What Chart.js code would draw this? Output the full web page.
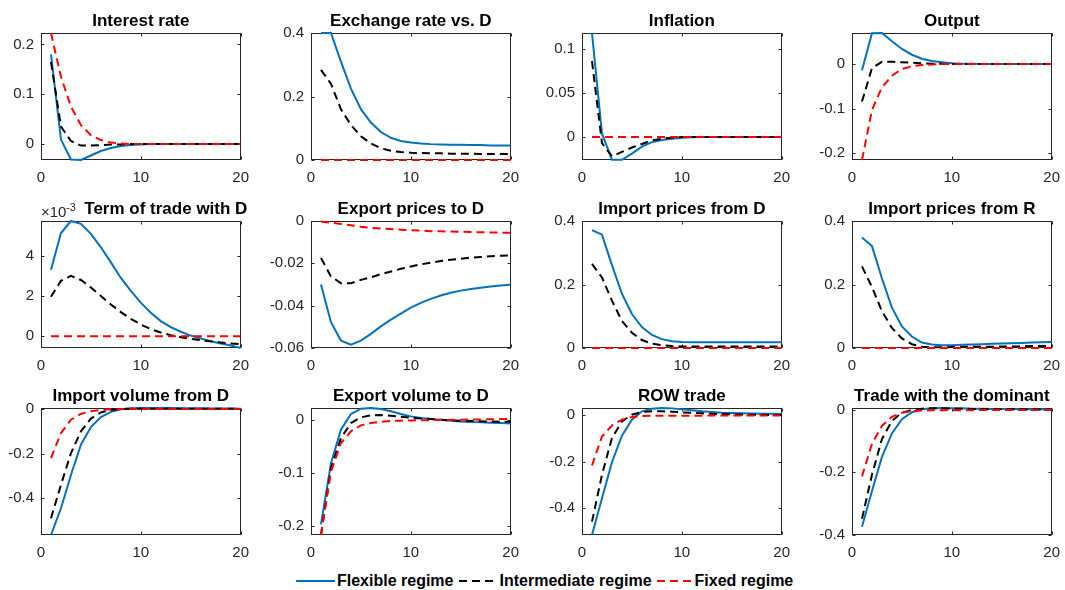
<!DOCTYPE html>
<html>
<head>
<meta charset="utf-8">
<script src="https://cdn.jsdelivr.net/npm/chart.js@4.4.1/dist/chart.umd.min.js"></script>
<style>
  body { margin: 0; background: #fff; width: 1065px; height: 590px; position: relative; overflow: hidden; font-family: "Liberation Sans", Arial, sans-serif; }
  canvas { position: absolute; }
  #legend { position: absolute; left: 296px; top: 571px; display: flex; align-items: center; gap: 5px; font-weight: bold; font-size: 16px; line-height: 20px; color: #000; white-space: nowrap; }
  #legend span { display: flex; align-items: center; gap: 2px; }
</style>
</head>
<body>
<div id="legend">
  <span><svg width="39" height="10"><line x1="0" y1="5" x2="39" y2="5" stroke="#0072BD" stroke-width="2"/></svg>Flexible regime</span>
  <span><svg width="39" height="10"><line x1="0" y1="5" x2="39" y2="5" stroke="#000" stroke-width="2" stroke-dasharray="8 5"/></svg>Intermediate regime</span>
  <span><svg width="36" height="10"><line x1="0" y1="5" x2="36" y2="5" stroke="#f00" stroke-width="2" stroke-dasharray="8 5"/></svg>Fixed regime</span>
</div>
<script>
const periods = [1, 2, 3, 4, 5, 6, 7, 8, 9, 10, 11, 12, 13, 14, 15, 16, 17, 18, 19, 20];
const xTicks = [0, 10, 20];
const zeros = [0, 0, 0, 0, 0, 0, 0, 0, 0, 0, 0, 0, 0, 0, 0, 0, 0, 0, 0, 0];

// Interest rate
const rateFlex = [0.180, 0.009, -0.031, -0.032, -0.023, -0.014, -0.008, -0.004, -0.002, -0.001, 0, 0, 0, 0, 0, 0, 0, 0, 0, 0];
const rateInter = [0.165, 0.035, 0.006, -0.003, -0.003, -0.002, -0.001, -0.001, 0, 0, 0, 0, 0, 0, 0, 0, 0, 0, 0, 0];
const rateFixed = [0.223, 0.135, 0.075, 0.038, 0.018, 0.008, 0.003, 0.001, 0, 0, 0, 0, 0, 0, 0, 0, 0, 0, 0, 0];
const rateTicks = [0, 0.1, 0.2];

// Exchange rate vs. D
const fxFlex = [0.4, 0.4, 0.31, 0.225, 0.16, 0.118, 0.088, 0.07, 0.06, 0.055, 0.052, 0.05, 0.049, 0.048, 0.048, 0.047, 0.047, 0.046, 0.046, 0.046];
const fxInter = [0.284, 0.24, 0.16, 0.11, 0.075, 0.052, 0.037, 0.029, 0.025, 0.023, 0.022, 0.021, 0.021, 0.02, 0.02, 0.02, 0.019, 0.019, 0.019, 0.019];
const fxFixed = zeros;
const fxTicks = [0, 0.2, 0.4];

// Inflation
const inflFlex = [0.118, 0.004, -0.026, -0.026, -0.019, -0.011, -0.006, -0.0035, -0.002, -0.001, -0.0005, 0, 0, 0, 0, 0, 0, 0, 0, 0];
const inflInter = [0.086, -0.007, -0.022, -0.017, -0.012, -0.008, -0.004, -0.002, -0.001, 0, 0, 0, 0, 0, 0, 0, 0, 0, 0, 0];
const inflFixed = zeros;
const inflTicks = [0, 0.05, 0.1];

// Output
const outFlex = [-0.014, 0.069, 0.0697, 0.051, 0.034, 0.021, 0.012, 0.007, 0.004, 0.002, 0.001, 0.001, 0, 0, 0, 0, 0, 0, 0, 0];
const outInter = [-0.084, -0.009, 0.005, 0.005, 0.004, 0.003, 0.002, 0.001, 0.001, 0, 0, 0, 0, 0, 0, 0, 0, 0, 0, 0];
const outFixed = [-0.215, -0.103, -0.052, -0.026, -0.011, -0.005, -0.002, -0.001, 0, 0, 0, 0, 0, 0, 0, 0, 0, 0, 0, 0];
const outTicks = [-0.2, -0.1, 0];

// Term of trade with D (in units of 10^-3)
const totFlex = [3.31, 5.14, 5.74, 5.6, 5.1, 4.43, 3.68, 2.9, 2.26, 1.67, 1.17, 0.75, 0.45, 0.22, 0.03, -0.12, -0.25, -0.37, -0.47, -0.59];
const totInter = [1.96, 2.76, 3.01, 2.8, 2.43, 2.0, 1.58, 1.2, 0.86, 0.58, 0.35, 0.18, 0.05, -0.05, -0.13, -0.2, -0.26, -0.31, -0.36, -0.4];
const totFixed = zeros;
const totTicks = [0, 2, 4];

// Export prices to D
const expFlex = [-0.030, -0.0478, -0.0565, -0.0584, -0.0565, -0.0533, -0.0498, -0.0466, -0.0438, -0.0409, -0.0387, -0.0368, -0.0352, -0.0339, -0.0329, -0.0321, -0.0315, -0.031, -0.0305, -0.0301];
const expInter = [-0.0175, -0.0262, -0.0294, -0.0294, -0.0278, -0.0266, -0.0251, -0.0239, -0.0226, -0.0215, -0.0205, -0.0197, -0.0189, -0.0183, -0.0178, -0.0173, -0.017, -0.0167, -0.0164, -0.0162];
const expFixed = [-0.0002, -0.0008, -0.0014, -0.002, -0.0027, -0.0032, -0.0035, -0.0038, -0.0041, -0.0043, -0.0045, -0.0048, -0.0049, -0.005, -0.0051, -0.0052, -0.0053, -0.0054, -0.0055, -0.0056];
const expTicks = [-0.06, -0.04, -0.02, 0];

// Import prices from D
const impDFlex = [0.371, 0.357, 0.261, 0.171, 0.107, 0.066, 0.041, 0.028, 0.021, 0.019, 0.018, 0.018, 0.018, 0.018, 0.018, 0.018, 0.018, 0.018, 0.018, 0.018];
const impDInter = [0.265, 0.222, 0.149, 0.085, 0.048, 0.025, 0.014, 0.009, 0.006, 0.005, 0.005, 0.005, 0.005, 0.005, 0.005, 0.005, 0.005, 0.005, 0.005, 0.005];
const impDFixed = zeros;
const impDTicks = [0, 0.2, 0.4];

// Import prices from R
const impRFlex = [0.348, 0.321, 0.219, 0.127, 0.068, 0.036, 0.017, 0.011, 0.009, 0.009, 0.01, 0.011, 0.012, 0.013, 0.014, 0.015, 0.016, 0.017, 0.018, 0.019];
const impRInter = [0.257, 0.192, 0.116, 0.063, 0.03, 0.012, 0.004, 0.002, 0.002, 0.003, 0.003, 0.004, 0.004, 0.004, 0.005, 0.005, 0.005, 0.006, 0.006, 0.006];
const impRFixed = zeros;
const impRTicks = [0, 0.2, 0.4];

// Import volume from D
const ivFlex = [-0.565, -0.445, -0.296, -0.16, -0.081, -0.036, -0.013, -0.0015, 0.003, 0.0045, 0.0045, 0.004, 0.004, 0.0035, 0.003, 0.003, 0.0025, 0.002, 0.002, 0.0015];
const ivInter = [-0.49, -0.34, -0.198, -0.1, -0.043, -0.015, -0.0045, 0, 0.001, 0.0015, 0.0015, 0.001, 0.001, 0.001, 0.001, 0.001, 0.001, 0.001, 0.001, 0.001];
const ivFixed = [-0.22, -0.108, -0.048, -0.022, -0.01, -0.0045, -0.0015, 0, 0, 0, 0, 0, 0, 0, 0, 0, 0, 0, 0, 0];
const ivTicks = [-0.4, -0.2, 0];

// Export volume to D
const evFlex = [-0.1975, -0.082, -0.019, 0.0107, 0.0208, 0.0221, 0.0202, 0.0158, 0.0107, 0.0063, 0.0032, 0.0013, 0, -0.002, -0.0032, -0.0044, -0.005, -0.0057, -0.0063, -0.007];
const evInter = [-0.2177, -0.0915, -0.035, -0.0063, 0.0044, 0.0082, 0.0088, 0.0076, 0.0057, 0.0038, 0.0025, 0.0013, 0, -0.0013, -0.002, -0.0025, -0.003, -0.0034, -0.0037, -0.0038];
const evFixed = [-0.2177, -0.098, -0.044, -0.022, -0.0107, -0.0063, -0.0038, -0.0025, -0.0018, -0.0013, -0.001, -0.0008, -0.0006, -0.0003, 0, 0.0003, 0.0006, 0.0009, 0.0011, 0.0013];
const evTicks = [-0.2, -0.1, 0];

// ROW trade
const rowFlex = [-0.514, -0.357, -0.203, -0.09, -0.021, 0.0143, 0.0257, 0.0286, 0.027, 0.023, 0.0186, 0.0143, 0.0114, 0.0086, 0.0071, 0.0057, 0.005, 0.0043, 0.0036, 0.003];
const rowInter = [-0.457, -0.257, -0.1, -0.0286, 0, 0.0114, 0.0143, 0.0143, 0.013, 0.01, 0.008, 0.0057, 0.004, 0.0028, 0.0014, 0.0005, 0, -0.0005, -0.001, -0.0014];
const rowFixed = [-0.217, -0.093, -0.046, -0.021, -0.01, -0.0057, -0.0043, -0.0043, -0.0043, -0.0043, -0.004, -0.004, -0.0035, -0.0035, -0.003, -0.003, -0.003, -0.003, -0.003, -0.003];
const rowTicks = [-0.4, -0.2, 0];

// Trade with the dominant
const domFlex = [-0.374, -0.26, -0.151, -0.076, -0.031, -0.0083, 0.001, 0.004, 0.005, 0.004, 0.004, 0.003, 0.003, 0.002, 0.002, 0.002, 0.001, 0.001, 0.001, 0.001];
const domInter = [-0.348, -0.208, -0.094, -0.036, -0.01, -0.001, 0.003, 0.004, 0.004, 0.003, 0.003, 0.002, 0.002, 0.001, 0.001, 0.001, 0.001, 0, 0, 0];
const domFixed = [-0.213, -0.109, -0.052, -0.023, -0.01, -0.005, -0.003, -0.002, -0.002, -0.002, -0.002, -0.002, -0.001, -0.001, -0.001, -0.001, -0.001, -0.001, -0.001, -0.001];
const domTicks = [-0.4, -0.2, 0];

const panels = [
  { title: "Interest rate", flex: rateFlex, inter: rateInter, fixed: rateFixed, ticks: rateTicks, min: -0.032, max: 0.223 },
  { title: "Exchange rate vs. D", flex: fxFlex, inter: fxInter, fixed: fxFixed, ticks: fxTicks, min: 0, max: 0.4 },
  { title: "Inflation", flex: inflFlex, inter: inflInter, fixed: inflFixed, ticks: inflTicks, min: -0.0262, max: 0.118 },
  { title: "Output", flex: outFlex, inter: outInter, fixed: outFixed, ticks: outTicks, min: -0.215, max: 0.0697 },
  { title: "Term of trade with D", flex: totFlex, inter: totInter, fixed: totFixed, ticks: totTicks, min: -0.59, max: 5.74, exponent: true, shift: 25 },
  { title: "Export prices to D", flex: expFlex, inter: expInter, fixed: expFixed, ticks: expTicks, min: -0.06, max: 0 },
  { title: "Import prices from D", flex: impDFlex, inter: impDInter, fixed: impDFixed, ticks: impDTicks, min: 0, max: 0.4 },
  { title: "Import prices from R", flex: impRFlex, inter: impRInter, fixed: impRFixed, ticks: impRTicks, min: 0, max: 0.4 },
  { title: "Import volume from D", flex: ivFlex, inter: ivInter, fixed: ivFixed, ticks: ivTicks, min: -0.565, max: 0.0045 },
  { title: "Export volume to D", flex: evFlex, inter: evInter, fixed: evFixed, ticks: evTicks, min: -0.2177, max: 0.0221 },
  { title: "ROW trade", flex: rowFlex, inter: rowInter, fixed: rowFixed, ticks: rowTicks, min: -0.514, max: 0.0286 },
  { title: "Trade with the dominant", flex: domFlex, inter: domInter, fixed: domFixed, ticks: domTicks, min: -0.4, max: 0.005 },
];

// subplot grid
const colLeft = [41, 311, 582, 852];
const rowTop = [33, 221, 408];
const plotW = 205, plotH = 127;
const ML = 48, MR = 12, MT = 30, MB = 30;
const FONT = "'Liberation Sans', Arial, sans-serif";

// box + inward ticks on all sides (under the lines, like matlab), and the title
const matlabAxes = {
  id: "matlabAxes",
  beforeDatasetsDraw(chart, args, opts) {
    const { ctx, chartArea: a, scales } = chart;
    const l = Math.round(a.left) + 0.5, r = Math.round(a.right) - 0.5;
    const t = Math.round(a.top) + 0.5, b = Math.round(a.bottom) - 0.5;
    ctx.save();
    ctx.strokeStyle = "#262626";
    ctx.lineWidth = 1;
    ctx.strokeRect(l, t, r - l, b - t);
    ctx.beginPath();
    scales.x.ticks.forEach((tk) => {
      const px = Math.round(scales.x.getPixelForValue(tk.value)) + 0.5;
      ctx.moveTo(px, b); ctx.lineTo(px, b - 3);
      ctx.moveTo(px, t); ctx.lineTo(px, t + 3);
    });
    scales.y.ticks.forEach((tk) => {
      const py = Math.round(scales.y.getPixelForValue(tk.value)) + 0.5;
      ctx.moveTo(l, py); ctx.lineTo(l + 3, py);
      ctx.moveTo(r, py); ctx.lineTo(r - 3, py);
    });
    ctx.stroke();

    ctx.fillStyle = "#000";
    ctx.font = "bold 17px " + FONT;
    ctx.textAlign = "center";
    ctx.textBaseline = "alphabetic";
    ctx.fillText(opts.title, (a.left + a.right) / 2 + (opts.shift || 0), a.top - 7);

    if (opts.exponent) {
      ctx.fillStyle = "#262626";
      ctx.textAlign = "left";
      ctx.font = "15px " + FONT;
      ctx.fillText("\u00d710", a.left, a.top - 4);
      ctx.font = "11px " + FONT;
      ctx.fillText("-3", a.left + 25, a.top - 10);
    }
    ctx.restore();
  },
};

const fmt = (v) => String(Math.round(v * 1e4) / 1e4);
const toPoints = (arr) => periods.map((x, i) => ({ x: x, y: arr[i] }));

panels.forEach((p, i) => {
  const col = i % 4, row = Math.floor(i / 4);
  const cv = document.createElement("canvas");
  cv.width = ML + plotW + MR;
  cv.height = MT + plotH + MB;
  cv.style.left = (colLeft[col] - ML) + "px";
  cv.style.top = (rowTop[row] - MT) + "px";
  document.body.appendChild(cv);

  new Chart(cv.getContext("2d"), {
    type: "line",
    data: {
      datasets: [
        { label: "Flexible regime", data: toPoints(p.flex), borderColor: "#0072BD", borderWidth: 2, clip: 2, order: 3 },
        { label: "Intermediate regime", data: toPoints(p.inter), borderColor: "#000000", borderWidth: 2, borderDash: [8, 5], clip: 2, order: 2 },
        { label: "Fixed regime", data: toPoints(p.fixed), borderColor: "#ff0000", borderWidth: 2, borderDash: [8, 5], clip: 2, order: 1 },
      ],
    },
    options: {
      responsive: false,
      devicePixelRatio: 1,
      animation: false,
      layout: { padding: { top: MT, right: MR, left: 0, bottom: 0 } },
      elements: { point: { radius: 0 }, line: { tension: 0, fill: false } },
      plugins: {
        legend: { display: false },
        tooltip: { enabled: false },
        title: { display: false },
        matlabAxes: { title: p.title, exponent: p.exponent, shift: p.shift },
      },
      scales: {
        x: {
          type: "linear",
          min: 0,
          max: 20,
          grid: { display: false, drawTicks: false },
          border: { display: false },
          afterBuildTicks: (s) => { s.ticks = xTicks.map((v) => ({ value: v })); },
          afterFit: (s) => { s.height = MB; },
          ticks: { padding: 9, color: "#262626", maxRotation: 0, font: { family: FONT, size: 15 }, callback: (v) => fmt(v) },
        },
        y: {
          type: "linear",
          min: p.min,
          max: p.max,
          grid: { display: false, drawTicks: false },
          border: { display: false },
          afterBuildTicks: (s) => { s.ticks = p.ticks.map((v) => ({ value: v })); },
          afterFit: (s) => { s.width = ML; },
          ticks: { padding: 7, color: "#262626", font: { family: FONT, size: 15 }, callback: (v) => fmt(v) },
        },
      },
    },
    plugins: [matlabAxes],
  });
});
</script>
</body>
</html>
